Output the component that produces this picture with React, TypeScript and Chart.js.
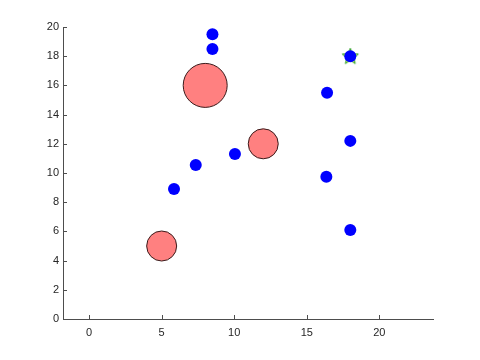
import React, { useEffect, useRef } from "react";
import { Chart, registerables } from "chart.js";

Chart.register(...registerables);

const blueX = [8.5, 8.5, 16.4, 18, 18, 16.35, 18, 10.05, 7.35, 5.85];
const blueY = [19.5, 18.5, 15.5, 18, 12.2, 9.75, 6.1, 11.3, 10.55, 8.9];

const bubbleX = [5, 8, 12];
const bubbleY = [5, 16, 12];
const bubbleR = [15, 22, 15];

const starX = [18];
const starY = [18];

const xTicks = [0, 5, 10, 15, 20];
const yTicks = [0, 2, 4, 6, 8, 10, 12, 14, 16, 18, 20];

function makeStar(): HTMLCanvasElement {
  const c = document.createElement("canvas");
  const s = 20;
  c.width = s;
  c.height = s;
  const ctx = c.getContext("2d")!;
  const cx = s / 2, cy = s / 2 + 0.5, ro = 8.5, ri = 3.6;
  ctx.beginPath();
  for (let i = 0; i < 10; i++) {
    const r = i % 2 === 0 ? ro : ri;
    const a = -Math.PI / 2 + (i * Math.PI) / 5;
    const px = cx + r * Math.cos(a);
    const py = cy + r * Math.sin(a);
    if (i === 0) ctx.moveTo(px, py);
    else ctx.lineTo(px, py);
  }
  ctx.closePath();
  ctx.fillStyle = "#e6f06a";
  ctx.fill();
  ctx.strokeStyle = "#2ca02c";
  ctx.lineWidth = 1;
  ctx.stroke();
  return c;
}

const axisColor = "#4d4d4d";

const inwardTicks = {
  id: "inwardTicks",
  afterDraw(chart: any) {
    const { ctx, chartArea, scales } = chart;
    ctx.save();
    ctx.strokeStyle = axisColor;
    ctx.lineWidth = 1;
    ctx.beginPath();
    xTicks.forEach((v) => {
      const px = Math.round(scales.x.getPixelForValue(v)) + 0.5;
      ctx.moveTo(px, chartArea.bottom);
      ctx.lineTo(px, chartArea.bottom - 4);
    });
    yTicks.forEach((v) => {
      const py = Math.round(scales.y.getPixelForValue(v)) + 0.5;
      ctx.moveTo(chartArea.left, py);
      ctx.lineTo(chartArea.left + 4, py);
    });
    ctx.stroke();
    ctx.restore();
  },
};

export default function App() {
  const ref = useRef<HTMLCanvasElement>(null);
  useEffect(() => {
    document.body.style.margin = "0";
    const star = makeStar();
    const chart = new Chart(ref.current!, {
      type: "scatter",
      data: {
        datasets: [
          {
            data: bubbleX.map((x, i) => ({ x, y: bubbleY[i] })),
            backgroundColor: "#ff8080",
            borderColor: "#3a1a1a",
            borderWidth: 1,
            pointRadius: bubbleR,
          },
          {
            data: blueX.map((x, i) => ({ x, y: blueY[i] })),
            backgroundColor: "#0000ff",
            borderColor: "#0000ff",
            borderWidth: 0,
            pointRadius: 6,
          },
          {
            data: starX.map((x, i) => ({ x, y: starY[i] })),
            pointStyle: star as any,
            pointRadius: 9,
          },
        ],
      },
      options: {
        animation: false,
        responsive: false,
        maintainAspectRatio: false,
        layout: { padding: { top: 27, right: 47, left: 0, bottom: 0 } },
        plugins: { legend: { display: false }, tooltip: { enabled: false } },
        scales: {
          x: {
            type: "linear",
            min: -1.8,
            max: 23.7,
            afterBuildTicks: (s: any) => {
              s.ticks = xTicks.map((v) => ({ value: v }));
            },
            afterFit: (s: any) => {
              s.height = 41;
            },
            grid: { display: false, drawTicks: false },
            border: { display: true, color: axisColor, width: 1 },
            ticks: {
              color: "#262626",
              font: { family: "Liberation Sans", size: 11 },
              padding: 7,
            },
          },
          y: {
            type: "linear",
            min: 0,
            max: 20,
            afterBuildTicks: (s: any) => {
              s.ticks = yTicks.map((v) => ({ value: v }));
            },
            afterFit: (s: any) => {
              s.width = 63;
            },
            grid: { display: false, drawTicks: false },
            border: { display: true, color: axisColor, width: 1 },
            ticks: {
              color: "#262626",
              font: { family: "Liberation Sans", size: 11 },
              padding: 4,
            },
          },
        },
      },
      plugins: [inwardTicks],
    });
    return () => chart.destroy();
  }, []);
  return (
    <div style={{ position: "absolute", left: 0, top: 0, width: 480, height: 360, background: "#fff" }}>
      <canvas ref={ref} width={480} height={360} />
    </div>
  );
}
